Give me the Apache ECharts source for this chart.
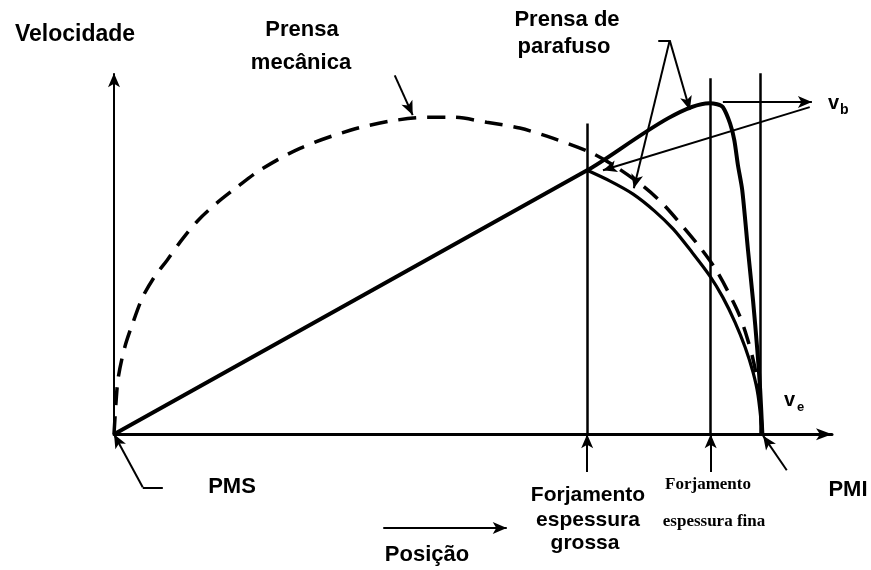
<!DOCTYPE html>
<html>
<head>
<meta charset="utf-8">
<script src="https://cdn.jsdelivr.net/npm/echarts@6/dist/echarts.min.js"></script>
<style>
  html, body { margin: 0; padding: 0; background: #fff; }
  #chart { width: 871px; height: 570px; }
</style>
</head>
<body>
<div id="chart"></div>
<script>
// posição (0-100) e velocidade (0-100)
const finaPos = [0, 65.9, 82.9, 84.0, 84.8, 85.8, 86.4, 86.9, 87.5, 88.3, 89.0, 89.6, 90.0, 90.3]
const finaVel = [0, 73.1, 91.7, 91.4, 90.6, 86.1, 81.4, 74.5, 67.6, 51.0, 37.1, 23.3, 12.2, 0]

const grossaPos = [65.9, 69.1, 72.3, 75.3, 77.9, 80.5, 83.0, 84.8, 86.5, 87.9, 89.0, 89.7, 90.3]
const grossaVel = [73.1, 70.1, 66.5, 61.8, 56.8, 50.4, 43.8, 37.9, 31.0, 24.1, 17.2, 10.8, 0]

const mecPos = [0, 0.3, 0.6, 1.5, 2.6, 4.0, 5.7, 7.4, 9.2, 11.6, 14.3, 17.1, 20.3, 25.9, 32.9, 38.4, 43.6, 47.2,
  51.9, 56.5, 61.1, 66.3, 69.8, 73.7, 76.5, 79.2, 81.6, 83.7, 85.5, 87.1, 88.2, 89.1, 89.8, 90.3]
const mecVel = [0, 9.4, 15.8, 24.1, 30.7, 38.0, 43.8, 48.2, 53.2, 59.0, 64.0, 68.4, 73.1, 79.2, 84.2, 86.7, 87.8, 87.8,
  86.4, 84.8, 82.0, 78.1, 74.2, 68.7, 63.7, 57.6, 51.8, 46.0, 39.6, 33.0, 26.6, 19.9, 12.2, 0]

// linhas verticais de referência
const marcasPos = [65.9, 83.1, 90.0]
const marcasTopo = [86.1, 98.6, 100]

// setas e linhas de chamada: [x1, y1, x2, y2, seta no fim]
const chamadas = [
  [0, 0, 0, 100, true],            // eixo velocidade
  [65.9, -10.5, 65.9, 0, true],
  [83.1, -10.5, 83.1, 0, true],
  [93.7, -10, 90.4, -0.4, true],   // PMI
  [6.8, -14.7, 4.0, -14.7, false], // PMS
  [4.0, -14.7, 0, 0, true],
  [39.1, 99.4, 41.6, 88.4, true],  // prensa mecânica
  [75.8, 109.1, 77.4, 109.1, false],
  [77.4, 109.1, 80.2, 89.8, true], // prensa de parafuso
  [77.4, 109.1, 72.4, 68.1, true],
  [84.8, 92.0, 97.2, 92.0, true],  // v_b
  [96.9, 90.6, 68.1, 73.1, true],
  [37.5, -26.0, 54.7, -26.0, true] // posição
]

const zip = (xs, ys) => xs.map((x, i) => [x, ys[i]])

const chart = echarts.init(document.getElementById('chart'))

const markData = chamadas.map(([x1, y1, x2, y2, seta]) => [
  { coord: [x1, y1], symbol: 'none' },
  { coord: [x2, y2], symbol: seta ? 'arrow' : 'none' }
])
marcasPos.forEach((x, i) => {
  markData.push([
    { coord: [x, marcasTopo[i]], symbol: 'none', lineStyle: { width: 2.5 } },
    { coord: [x, 0], symbol: 'none' }
  ])
})

const bold = (size) => `bold ${size}px "Liberation Sans", Arial, sans-serif`
const texto = (text, x, y, font, align) => ({
  type: 'text', x, y, silent: true,
  style: { text, font, fill: '#000', align: align || 'center', verticalAlign: 'middle' }
})

chart.setOption({
  animation: false,
  backgroundColor: '#fff',
  grid: { left: 114, right: 39, top: 1, bottom: 27.5 },
  xAxis: {
    type: 'value', min: 0, max: 100,
    axisLine: { show: true, onZero: true, symbol: ['none', 'arrow'], symbolSize: [9, 16], lineStyle: { color: '#000', width: 3 } },
    axisTick: { show: false }, axisLabel: { show: false }, splitLine: { show: false }
  },
  yAxis: {
    type: 'value', min: -30, max: 120,
    axisLine: { show: false }, axisTick: { show: false }, axisLabel: { show: false }, splitLine: { show: false }
  },
  series: [
    {
      name: 'Prensa mecânica', type: 'line', data: zip(mecPos, mecVel),
      smooth: 0.3, symbol: 'none', clip: false,
      lineStyle: { color: '#000', width: 3.5, type: [18, 11] }
    },
    {
      name: 'Espessura fina', type: 'line', data: zip(finaPos, finaVel),
      smooth: 0.25, symbol: 'none', clip: false,
      lineStyle: { color: '#000', width: 4, join: 'round' }
    },
    {
      name: 'Espessura grossa', type: 'line', data: zip(grossaPos, grossaVel),
      smooth: 0.3, symbol: 'none', clip: false,
      lineStyle: { color: '#000', width: 3.2 },
      markLine: {
        silent: true, animation: false,
        symbolSize: [9, 14],
        label: { show: false },
        lineStyle: { color: '#000', type: 'solid', width: 2 },
        data: markData
      }
    }
  ],
  graphic: [
    texto('Velocidade', 75, 35, bold(23)),
    texto('Prensa', 302, 30, bold(22)),
    texto('mecânica', 301, 63, bold(22)),
    texto('Prensa de', 567, 20, bold(22)),
    texto('parafuso', 564, 47, bold(22)),
    texto('PMS', 232, 487, bold(22)),
    texto('PMI', 848, 490, bold(22)),
    texto('Posição', 427, 555, bold(22)),
    texto('Forjamento', 588, 495, bold(21)),
    texto('espessura', 588, 520, bold(21)),
    texto('grossa', 585, 543, bold(21)),
    texto('Forjamento', 708, 485, 'bold 17px "Liberation Serif", serif'),
    texto('espessura fina', 714, 522, 'bold 17px "Liberation Serif", serif'),
    texto('v', 828, 103, bold(20), 'left'),
    texto('b', 840, 110, bold(14), 'left'),
    texto('v', 784, 400, bold(20), 'left'),
    texto('e', 797, 407, bold(13), 'left')
  ]
})
</script>
</body>
</html>
